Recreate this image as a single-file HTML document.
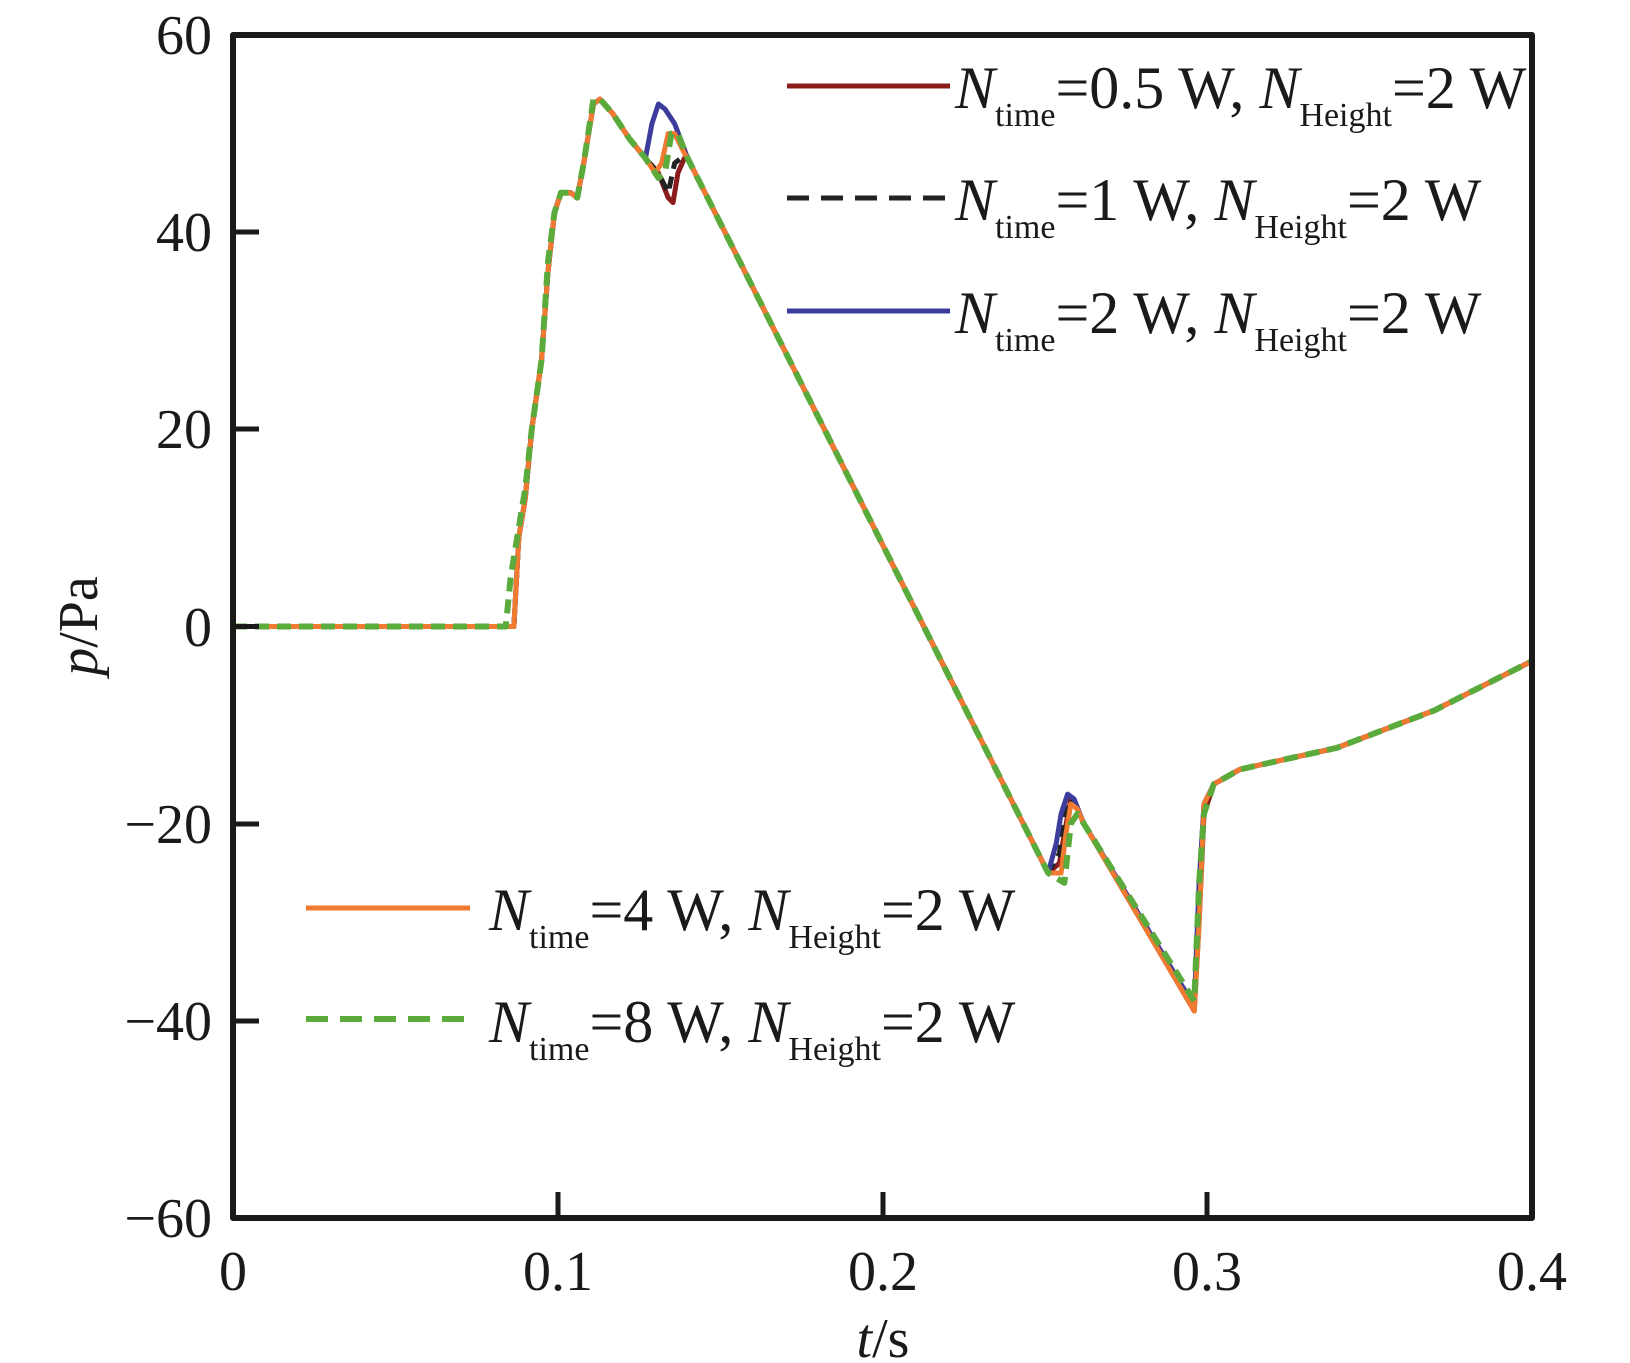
<!DOCTYPE html>
<html><head><meta charset="utf-8"><style>
html,body{margin:0;padding:0;background:#fff;}
svg{display:block;}
text{font-family:"Liberation Serif","Times New Roman",serif;fill:#1a1a1a;}
</style></head><body>
<svg width="1630" height="1363" viewBox="0 0 1630 1363" xmlns="http://www.w3.org/2000/svg">
<g fill="none" stroke-linejoin="round" stroke-linecap="butt">
<g transform="translate(233,626.5) scale(3247.5,-9.858)">
<polyline vector-effect="non-scaling-stroke" stroke="#8b1c1c" stroke-width="5" points="0,0 0.085,0 0.0865,0 0.088,9 0.09,13 0.092,20 0.095,27 0.097,36 0.099,42 0.101,44 0.104,44 0.106,43.5 0.108,47 0.111,53 0.113,53.5 0.117,52 0.122,49.5 0.127,47.5 0.131,46 0.134,43.5 0.1355,43 0.137,46 0.139,47.5 0.14,47.5 0.251,-25 0.2545,-24 0.256,-21 0.258,-17.5 0.26,-18.5 0.262,-20 0.296,-39 0.2975,-30 0.299,-19 0.302,-16 0.31,-14.5 0.34,-12.3 0.37,-8.5 0.4,-3.5"/>
<polyline vector-effect="non-scaling-stroke" stroke="#222" stroke-width="5" stroke-dasharray="12,8" points="0,0 0.085,0 0.0865,0 0.088,9 0.09,13 0.092,20 0.095,27 0.097,36 0.099,42 0.101,44 0.104,44 0.106,43.5 0.108,47 0.111,53 0.113,53.5 0.117,52 0.122,49.5 0.127,47.5 0.131,46 0.134,44 0.136,47 0.138,47.5 0.14,47.5 0.251,-25 0.2545,-23 0.256,-19 0.258,-17.5 0.26,-18.5 0.262,-20 0.296,-38.5 0.2975,-28 0.299,-18 0.302,-16 0.31,-14.5 0.34,-12.3 0.37,-8.5 0.4,-3.5"/>
<polyline vector-effect="non-scaling-stroke" stroke="#3c3c9c" stroke-width="5" points="0,0 0.085,0 0.0865,0 0.088,9 0.09,13 0.092,20 0.095,27 0.097,36 0.099,42 0.101,44 0.104,44 0.106,43.5 0.108,47 0.111,53 0.113,53.5 0.117,52 0.122,49.5 0.127,47.5 0.129,51 0.131,53 0.133,52.5 0.136,51 0.14,47.5 0.251,-25 0.2535,-22 0.255,-19 0.257,-17 0.259,-17.5 0.262,-20 0.296,-38.5 0.2975,-26 0.299,-18 0.302,-16 0.31,-14.5 0.34,-12.3 0.37,-8.5 0.4,-3.5"/>
<polyline vector-effect="non-scaling-stroke" stroke="#f07a30" stroke-width="5" points="0,0 0.085,0 0.0865,0 0.088,9 0.09,13 0.092,20 0.095,27 0.097,36 0.099,42 0.101,44 0.104,44 0.106,43.5 0.108,47 0.111,53 0.113,53.5 0.117,52 0.122,49.5 0.127,47.5 0.13,46 0.132,47 0.134,50 0.136,50 0.139,48 0.14,47.5 0.251,-25 0.255,-25 0.2565,-21 0.258,-18 0.26,-18.5 0.262,-20 0.296,-39 0.2975,-30 0.299,-18 0.302,-16 0.31,-14.5 0.34,-12.3 0.37,-8.5 0.4,-3.5"/>
<polyline vector-effect="non-scaling-stroke" stroke="#5aaa3c" stroke-width="6" stroke-dasharray="14,8" points="0,0 0.084,0 0.0855,5 0.088,10 0.09,14 0.092,20 0.095,27 0.097,37 0.099,42 0.101,44 0.104,44 0.106,43.5 0.108,47 0.111,53.5 0.113,53.5 0.117,52 0.122,49.5 0.127,47.5 0.131,45.5 0.133,46 0.135,50 0.137,50 0.14,47.5 0.251,-25 0.256,-26 0.258,-20 0.26,-19 0.262,-20 0.296,-38 0.2975,-26 0.299,-19 0.302,-16 0.31,-14.5 0.34,-12.3 0.37,-8.5 0.4,-3.5"/>
</g>
<rect x="233" y="35" width="1299" height="1183" stroke="#1a1a1a" stroke-width="6"/>
<g stroke="#1a1a1a" stroke-width="5">
<line x1="558" y1="1218" x2="558" y2="1192"/><line x1="883" y1="1218" x2="883" y2="1192"/><line x1="1207" y1="1218" x2="1207" y2="1192"/>
<line x1="233" y1="232" x2="259" y2="232"/><line x1="233" y1="429" x2="259" y2="429"/><line x1="233" y1="626.5" x2="259" y2="626.5"/><line x1="233" y1="824" x2="259" y2="824"/><line x1="233" y1="1021" x2="259" y2="1021"/>
</g>
<line x1="787" y1="86" x2="950" y2="86" stroke="#8b1c1c" stroke-width="5"/>
<line x1="787" y1="198" x2="950" y2="198" stroke="#222" stroke-width="5" stroke-dasharray="22,12"/>
<line x1="787" y1="311" x2="950" y2="311" stroke="#3c3c9c" stroke-width="5"/>
<line x1="306" y1="908" x2="470" y2="908" stroke="#f07a30" stroke-width="5"/>
<line x1="306" y1="1019" x2="470" y2="1019" stroke="#5aaa3c" stroke-width="6" stroke-dasharray="22,12"/>
</g>
<g font-size="56" text-anchor="end">
<text x="212" y="54">60</text><text x="212" y="251">40</text><text x="212" y="448">20</text><text x="212" y="646">0</text><text x="212" y="843">−20</text><text x="212" y="1040">−40</text><text x="212" y="1237">−60</text>
</g>
<g font-size="56" text-anchor="middle">
<text x="233" y="1290">0</text><text x="558" y="1290">0.1</text><text x="883" y="1290">0.2</text><text x="1207" y="1290">0.3</text><text x="1532" y="1290">0.4</text>
<text x="883" y="1357"><tspan font-style="italic">t</tspan>/s</text>
</g>
<text font-size="56" transform="translate(97,626) rotate(-90)" text-anchor="middle"><tspan font-style="italic">p</tspan>/Pa</text>
<g font-size="60">
<text x="955" y="108"><tspan font-style="italic">N</tspan><tspan font-size="34" dy="18">time</tspan><tspan dy="-18">=0.5 W, </tspan><tspan font-style="italic">N</tspan><tspan font-size="34" dy="18">Height</tspan><tspan dy="-18">=2 W</tspan></text>
<text x="955" y="220"><tspan font-style="italic">N</tspan><tspan font-size="34" dy="18">time</tspan><tspan dy="-18">=1 W, </tspan><tspan font-style="italic">N</tspan><tspan font-size="34" dy="18">Height</tspan><tspan dy="-18">=2 W</tspan></text>
<text x="955" y="333"><tspan font-style="italic">N</tspan><tspan font-size="34" dy="18">time</tspan><tspan dy="-18">=2 W, </tspan><tspan font-style="italic">N</tspan><tspan font-size="34" dy="18">Height</tspan><tspan dy="-18">=2 W</tspan></text>
<text x="489" y="930"><tspan font-style="italic">N</tspan><tspan font-size="34" dy="18">time</tspan><tspan dy="-18">=4 W, </tspan><tspan font-style="italic">N</tspan><tspan font-size="34" dy="18">Height</tspan><tspan dy="-18">=2 W</tspan></text>
<text x="489" y="1042"><tspan font-style="italic">N</tspan><tspan font-size="34" dy="18">time</tspan><tspan dy="-18">=8 W, </tspan><tspan font-style="italic">N</tspan><tspan font-size="34" dy="18">Height</tspan><tspan dy="-18">=2 W</tspan></text>
</g>
</svg>
</body></html>
